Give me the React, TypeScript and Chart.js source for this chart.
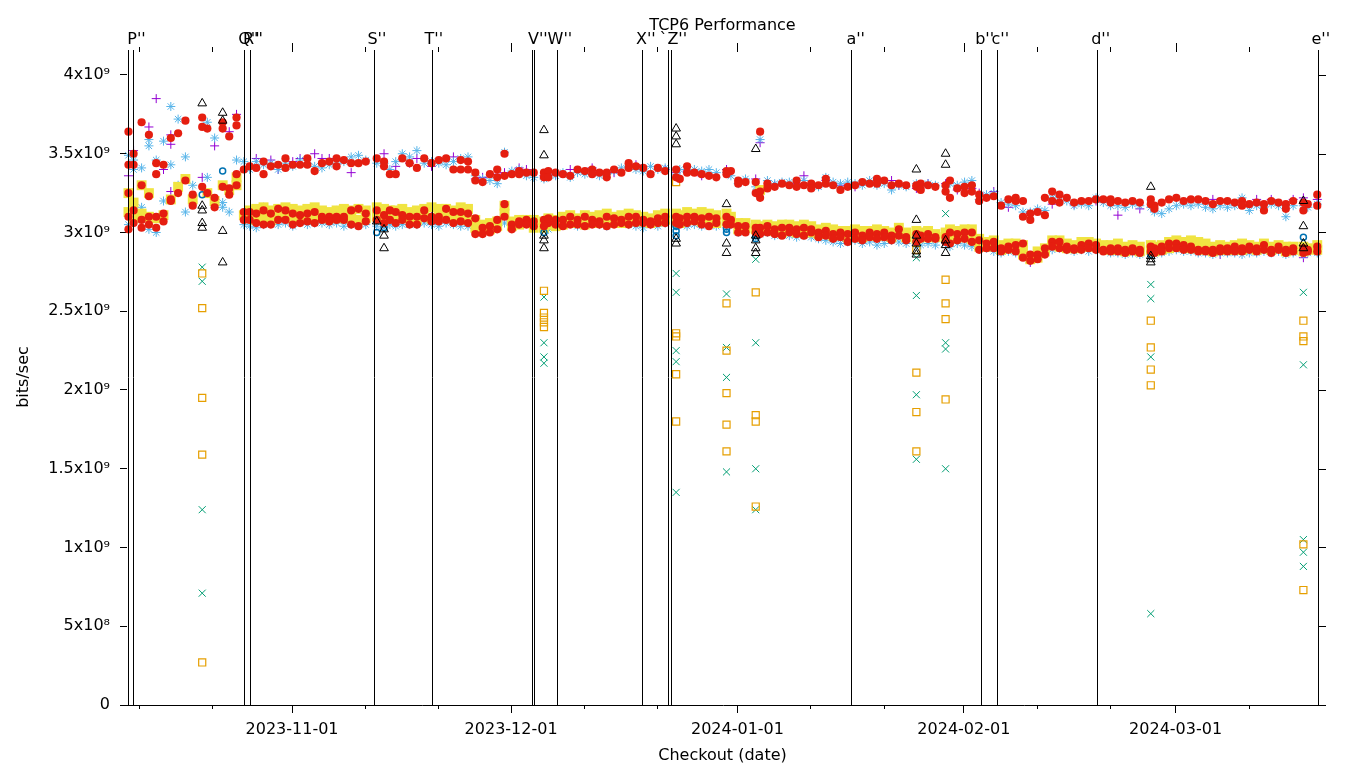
import { useEffect, useRef } from "react";
import { Chart, registerables } from "chart.js";

Chart.register(...registerables);

const X_MIN = -22.6;
const X_MAX = 140.5;
const Y_MAX = 4.146e9;
const G = 1e9;

const chartTitle = "TCP6 Performance";
const xTitle = "Checkout (date)";
const yTitle = "bits/sec";

const monthTickDays = [0, 30, 61, 92, 121];
const monthTickLabels = ["2023-11-01", "2023-12-01", "2024-01-01", "2024-02-01", "2024-03-01"];
const minorTickDays = [-21, -11, 10, 20, 40, 50, 71, 81, 102, 112, 131];
const yTickValues = [0, 0.5e9, 1e9, 1.5e9, 2e9, 2.5e9, 3e9, 3.5e9, 4e9];
const yTickLabels = ["0", "5x10⁸", "1x10⁹", "1.5x10⁹", "2x10⁹", "2.5x10⁹", "3x10⁹", "3.5x10⁹", "4x10⁹"];

const markerLineDays = [-22.42, -21.74, -6.54, -5.76, 11.25, 19.11, 32.8, 33.11, 36.22, 47.99, 51.5, 51.96, 76.61, 94.4, 96.54, 110.28, 140.48];
const markerLabelTexts = ["P''", "Q''", "R''", "S''", "T''", "V''", "W''", "X''", "`Z''", "a''", "b''", "c''", "d''", "e''"];
const markerLabelDays = [-21.3, -5.9, -5.35, 11.62, 19.41, 33.66, 36.68, 48.45, 52.21, 77.19, 94.85, 97.0, 110.74, 140.89];

// checkout dates, days after 2023-11-01
const checkoutDays = [
  -22.4, -21.7, -20.6, -19.6, -18.6, -17.6, -16.6, -15.6, -14.6, -13.6, -12.3, -11.6, -10.6, -9.5, -8.6, -7.6, -6.6,
  -5.8, -4.9, -3.9, -2.9, -1.9, -0.9, 0.1, 1.1, 2.1, 3.1, 4.1, 5.1, 6.1, 7.1, 8.1, 9.1, 10.1,
  11.6, 12.6, 13.4, 14.2,
  15.1, 16.1, 17.1, 18.1, 19.1, 20.1, 21.1, 22.1, 23.1, 24.1, 25.1, 26.1, 27.1, 28.1, 29.1, 30.1, 31.1, 32.1, 33.1,
  34.5,
  35.1, 36.1, 37.1, 38.1, 39.1, 40.1, 41.1, 42.1, 43.1, 44.1, 45.1, 46.1, 47.1, 48.1, 49.1, 50.1, 51.1,
  52.6,
  53.1, 54.1, 55.1, 56.1, 57.1, 58.1,
  59.5,
  60.1, 61.1, 62.1,
  63.5,
  64.1, 65.1, 66.1, 67.1, 68.1, 69.1, 70.1, 71.1, 72.1, 73.1, 74.1, 75.1, 76.1, 77.1, 78.1, 79.1, 80.1, 81.1, 82.1, 83.1, 84.1,
  85.5,
  86.1, 87.1, 88.1,
  89.5,
  90.1, 91.1, 92.1, 93.1, 94.1, 95.1, 96.1, 97.1, 98.1, 99.1, 100.1, 101.1, 102.1, 103.1, 104.1, 105.1, 106.1, 107.1, 108.1, 109.1, 110.1, 111.1, 112.1, 113.1, 114.1, 115.1, 116.1,
  117.6,
  118.1, 119.1, 120.1, 121.1, 122.1, 123.1, 124.1, 125.1, 126.1, 127.1, 128.1, 129.1, 130.1, 131.1, 132.1, 133.1, 134.1, 135.1, 136.1, 137.1,
  138.5, 139.1, 140.4,
];

const redHiA = [
  3.64, 3.5, 3.7, 3.62, 3.44, 3.43, 3.6, 3.63, 3.71, null,
  3.73, 3.66, null, 3.7, 3.61, 3.73, 3.4, 3.42, 3.41, 3.45,
  3.42, 3.43, 3.47, 3.43, 3.43, 3.47, 3.39, 3.44, 3.45, 3.47,
  3.46, 3.44, 3.44, 3.45, 3.47, 3.45, 3.37, 3.37, 3.47, 3.44,
  3.41, 3.47, 3.44, 3.46, 3.47, 3.4, 3.46, 3.45, 3.38, 3.32,
  3.37, 3.4, 3.5, 3.37, 3.39, 3.38, 3.38, 3.38, 3.39, 3.38,
  3.37, 3.36, 3.4, 3.39, 3.4, 3.38, 3.35, 3.4, 3.38, 3.44,
  3.42, 3.41, 3.37, 3.41, 3.39, 3.35, 3.34, 3.42, 3.38, 3.37,
  3.36, 3.35, 3.39, 3.39, 3.33, 3.32, 3.32, 3.64, 3.31, 3.29,
  3.31, 3.3, 3.33, 3.3, 3.31, 3.3, 3.34, 3.3, 3.27, 3.29,
  3.3, 3.32, 3.31, 3.34, 3.33, 3.3, 3.31, 3.3, 3.29, 3.31,
  3.3, 3.29, 3.26, 3.33, 3.28, 3.29, 3.3, 3.24, 3.22, 3.23,
  3.17, 3.21, 3.22, 3.2, 3.08, 3.13, 3.11, 3.26, 3.24, 3.22,
  3.19, 3.2, 3.2, 3.21, 3.21, 3.21, 3.2, 3.19, 3.2, 3.19,
  3.21, 3.17, 3.19, 3.21, 3.22, 3.2, 3.21, 3.21, 3.2, 3.18,
  3.2, 3.2, 3.19, 3.2, 3.18, 3.19, 3.14, 3.2, 3.19, 3.18,
  3.2, 3.19, 3.18, 3.24,
];
const redHiB = [
  3.43, 3.43, 3.3, 3.23, 3.37, null, 3.21, null, 3.33, null,
  3.67, null, null, 3.66, null, 3.68, null, null, null, 3.37,
  null, null, 3.41, null, null, 3.43, null, null, null, 3.42,
  null, null, null, null, null, 3.42, null, null, null, null,
  null, null, null, null, null, null, 3.4, 3.4, 3.33, null,
  null, 3.35, 3.36, null, 3.37, null, null, 3.35, 3.35, null,
  null, null, null, null, 3.37, null, 3.38, null, null, 3.41,
  null, null, null, null, null, 3.4, null, 3.38, null, null,
  null, null, 3.37, null, 3.31, null, 3.25, 3.26, 3.28, null,
  null, null, 3.29, null, 3.28, null, 3.31, null, null, null,
  null, null, null, 3.31, null, null, null, null, 3.3, 3.27,
  null, null, 3.3, 3.22, null, 3.25, 3.26, 3.2, null, null,
  null, null, 3.2, 3.1, 3.12, null, 3.22, 3.2, 3.19, null,
  null, null, null, null, null, 3.19, null, null, null, null,
  3.18, 3.15, null, null, null, null, null, null, null, null,
  null, null, null, 3.17, null, null, 3.18, null, null, 3.15,
  null, 3.14, null, 3.17,
];
const redLoA = [
  3.1, 3.14, 3.08, 3.1, 3.1, 3.12, 3.2, 3.25, null, 3.24,
  3.29, 3.25, 3.22, 3.29, 3.28, 3.3, 3.13, 3.13, 3.12, 3.14,
  3.12, 3.15, 3.14, 3.12, 3.11, 3.12, 3.13, 3.1, 3.1, 3.1,
  3.1, 3.14, 3.15, 3.12, 3.14, 3.11, 3.14, 3.13, 3.11, 3.1,
  3.1, 3.14, 3.1, 3.1, 3.15, 3.13, 3.13, 3.12, 3.09, 3.03,
  3.04, 3.08, 3.18, 3.05, 3.05, 3.08, 3.07, 3.08, 3.06, 3.08,
  3.08, 3.1, 3.08, 3.1, 3.08, 3.07, 3.1, 3.09, 3.08, 3.1,
  3.1, 3.08, 3.07, 3.09, 3.1, 3.1, 3.09, 3.1, 3.1, 3.09,
  3.1, 3.09, 3.1, 3.08, 3.04, 3.04, 3.03, 3.03, 3.04, 3.02,
  3.03, 3.03, 3.02, 3.03, 3.02, 3.0, 3.01, 2.99, 3.0, 2.99,
  3.0, 2.98, 3.0, 2.99, 3.0, 2.98, 3.02, 2.97, 2.99, 2.98,
  2.99, 2.97, 2.97, 3.0, 2.99, 3.0, 3.0, 2.95, 2.93, 2.94,
  2.9, 2.91, 2.92, 2.93, 2.82, 2.86, 2.86, 2.94, 2.94, 2.91,
  2.9, 2.92, 2.93, 2.92, 2.89, 2.9, 2.9, 2.89, 2.9, 2.89,
  2.88, 2.9, 2.91, 2.93, 2.93, 2.92, 2.91, 2.89, 2.89, 2.89,
  2.9, 2.9, 2.91, 2.9, 2.91, 2.9, 2.92, 2.87, 2.91, 2.89,
  2.9, 2.9, 2.89, 2.91,
];
const redLoB = [
  3.02, 3.06, 3.03, 3.05, 3.03, 3.07, null, null, null, 3.17,
  null, null, 3.16, null, 3.24, null, 3.08, 3.08, 3.06, 3.05,
  3.05, 3.08, 3.08, 3.05, 3.06, 3.07, 3.06, 3.08, 3.07, 3.08,
  3.08, 3.05, 3.04, 3.07, 3.08, 3.06, 3.08, 3.06, 3.08, 3.05,
  3.05, 3.09, 3.07, 3.07, 3.08, 3.06, 3.07, 3.06, 2.99, 2.99,
  3.0, 3.02, 3.1, 3.02, 3.07, 3.05, 3.04, 3.04, 3.09, 3.05,
  3.04, 3.05, 3.05, 3.04, 3.05, 3.05, 3.04, 3.05, 3.06, 3.05,
  3.06, 3.06, 3.05, 3.06, 3.06, 3.06, 3.05, 3.06, 3.07, 3.05,
  3.04, 3.06, 3.05, 3.05, 3.0, 3.0, 3.0, 2.99, 3.0, 2.99,
  2.98, 3.0, 2.99, 2.98, 3.0, 2.97, 2.98, 2.96, 2.97, 2.94,
  2.96, 2.95, 2.97, 2.96, 2.97, 2.95, 2.98, 2.95, 2.94, 2.96,
  2.96, 2.96, 2.94, 2.93, 2.95, 2.96, 2.94, 2.89, 2.9, 2.9,
  2.88, 2.89, 2.88, 2.84, 2.86, 2.83, 2.9, 2.91, 2.9, 2.89,
  2.89, 2.89, 2.9, 2.89, 2.88, 2.88, 2.88, 2.87, 2.88, 2.87,
  2.91, 2.87, 2.88, 2.9, 2.9, 2.89, 2.89, 2.88, 2.88, 2.87,
  2.88, 2.88, 2.88, 2.88, 2.89, 2.88, 2.89, 2.89, 2.89, 2.87,
  2.88, 2.87, 2.88, 2.88,
];
const redExtraIdx = [0, 15, 87];
const redExtraValues = [3.25, 3.37, 3.22];

const yellowA = [
  3.13, 3.19, 3.3, 3.25, 3.09, 3.11, 3.21, 3.29, 3.34, 3.21,
  null, 3.25, 3.2, 3.3, 3.27, 3.35, 3.11, 3.14, 3.15, 3.16,
  3.14, 3.15, 3.16, 3.15, 3.14, 3.15, 3.16, 3.14, 3.13, 3.14,
  3.15, 3.14, 3.15, 3.14, 3.16, 3.15, 3.14, 3.14, 3.15, 3.13,
  3.14, 3.15, 3.16, 3.15, 3.15, 3.14, 3.16, 3.15, 3.08, 3.05,
  3.06, 3.07, 3.17, 3.07, 3.08, 3.08, 3.08, 3.07, 3.09, 3.08,
  3.1, 3.11, 3.09, 3.11, 3.1, 3.11, 3.12, 3.1, 3.11, 3.12,
  3.11, 3.1, 3.09, 3.11, 3.12, 3.12, 3.11, 3.13, 3.12, 3.13,
  3.12, 3.11, 3.12, 3.1, 3.06, 3.06, 3.05, 3.04, 3.05, 3.04,
  3.05, 3.05, 3.04, 3.05, 3.04, 3.02, 3.03, 3.02, 3.01, 3.01,
  3.02, 3.01, 3.01, 3.02, 3.01, 3.0, 3.03, 3.0, 3.01, 3.0,
  3.01, 2.99, 3.0, 3.02, 3.01, 3.02, 3.02, 2.96, 2.94, 2.95,
  2.92, 2.93, 2.93, 2.92, 2.85, 2.88, 2.88, 2.95, 2.95, 2.93,
  2.92, 2.94, 2.94, 2.93, 2.92, 2.92, 2.93, 2.91, 2.92, 2.91,
  2.92, 2.91, 2.92, 2.94, 2.95, 2.94, 2.95, 2.94, 2.93, 2.91,
  2.92, 2.91, 2.92, 2.93, 2.92, 2.91, 2.93, 2.91, 2.92, 2.91,
  2.91, 2.91, 2.9, 2.92,
];
const yellowB = [
  3.25, 3.09, 3.12, 3.1, null, null, null, null, null, null,
  null, null, null, null, null, 3.3, null, 3.09, 3.08, 3.1,
  3.08, 3.1, 3.11, 3.09, 3.1, 3.09, 3.1, 3.11, 3.09, 3.1,
  3.09, 3.1, 3.08, 3.09, 3.1, 3.09, 3.1, 3.09, 3.1, 3.09,
  3.08, 3.11, 3.09, 3.1, 3.1, 3.09, 3.1, 3.08, 3.03, 3.02,
  3.02, 3.04, 3.12, 3.04, 3.05, 3.06, 3.03, 3.03, 3.05, 3.04,
  3.05, 3.06, 3.07, 3.05, 3.06, 3.07, 3.06, 3.07, 3.06, 3.07,
  3.08, 3.07, 3.06, 3.07, 3.08, 3.07, 3.06, 3.08, 3.08, 3.07,
  3.07, 3.06, 3.07, 3.06, 3.02, 3.03, 3.02, 3.27, 3.02, 3.01,
  3.0, 3.01, 3.0, 3.01, 3.0, 2.99, 2.99, 2.98, 2.99, 2.97,
  2.98, 2.97, 2.98, 2.98, 2.98, 2.97, 2.99, 2.97, 2.96, 2.97,
  2.97, 2.97, 2.97, 2.96, 2.97, 2.97, 2.96, 2.91, 2.91, 2.92,
  2.89, 2.9, 2.9, 2.86, 2.83, 2.84, 2.9, 2.92, 2.91, 2.9,
  2.9, 2.91, 2.91, 2.91, 2.9, 2.89, 2.89, 2.88, 2.89, 2.88,
  2.89, 2.88, 2.89, 2.9, 2.91, 2.91, 2.9, 2.9, 2.89, 2.88,
  2.89, 2.89, 2.89, 2.89, 2.9, 2.89, 2.9, 2.89, 2.9, 2.88,
  2.89, 2.88, 2.89, 2.89,
];

const blueHi = [
  3.49, 3.46, 3.41, 3.59, 3.46, 3.58, 3.8, 3.72, 3.48, 3.3,
  null, 3.7, 3.6, null, null, 3.46, 3.45, 3.4, 3.45, 3.43,
  3.44, 3.4, 3.44, 3.42, 3.46, 3.44, 3.42, 3.41, 3.43, 3.44,
  3.45, 3.48, 3.49, 3.46, 3.44, 3.44, 3.4, 3.45, 3.5, 3.48,
  3.52, 3.44, 3.45, 3.44, 3.43, 3.45, 3.47, 3.48, 3.36, 3.34,
  3.33, 3.31, 3.51, 3.39, 3.4, 3.36, 3.35, 3.34, 3.37, 3.36,
  3.38, 3.35, 3.38, 3.37, 3.39, 3.36, 3.37, 3.39, 3.41, 3.42,
  3.4, 3.39, 3.42, 3.4, 3.41, 3.37, 3.4, 3.4, 3.4, 3.39,
  3.4, 3.38, 3.38, 3.36, 3.31, 3.34, 3.29, 3.59, 3.33, 3.31,
  3.32, 3.32, 3.3, 3.33, 3.3, 3.29, 3.35, 3.32, 3.31, 3.32,
  3.31, 3.3, 3.33, 3.3, 3.31, 3.27, 3.3, 3.29, 3.31, 3.29,
  3.31, 3.3, 3.29, 3.31, 3.3, 3.32, 3.33, 3.21, 3.24, 3.25,
  3.19, 3.18, 3.17, 3.13, 3.13, 3.15, 3.14, 3.22, 3.23, 3.2,
  3.17, 3.18, 3.17, 3.22, 3.19, 3.17, 3.17, 3.16, 3.18, 3.17,
  3.16, 3.13, 3.12, 3.15, 3.17, 3.18, 3.17, 3.18, 3.16, 3.15,
  3.17, 3.16, 3.17, 3.22, 3.14, 3.17, 3.16, 3.18, 3.17, 3.1,
  3.17, 3.17, 3.16, 3.18,
];
const blueLo = [
  3.05, 3.15, 3.16, 3.02, 3.0, 3.2, 3.43, 3.3, 3.13, null,
  null, 3.35, null, 3.19, 3.13, null, 3.05, 3.04, 3.03, 3.05,
  3.06, 3.05, 3.06, 3.04, 3.07, 3.05, 3.06, 3.06, 3.05, 3.06,
  3.04, 3.05, 3.05, 3.05, 3.04, 3.03, 3.05, 3.04, 3.05, 3.05,
  3.05, 3.06, 3.05, 3.04, 3.06, 3.05, 3.04, 3.04, 3.03, 3.04,
  3.03, 3.04, 3.06, 3.05, 3.07, 3.07, 3.05, 3.04, 3.02, 3.06,
  3.05, 3.07, 3.04, 3.05, 3.07, 3.05, 3.04, 3.06, 3.07, 3.05,
  3.04, 3.03, 3.05, 3.04, 3.06, 3.04, 3.06, 3.04, 3.05, 3.04,
  3.05, 3.04, 3.03, 3.05, 3.0, 3.01, 2.97, 2.99, 3.0, 2.98,
  2.99, 2.98, 2.97, 2.98, 2.97, 2.96, 2.95, 2.94, 2.93, 2.94,
  2.95, 2.93, 2.94, 2.92, 2.93, 2.95, 2.94, 2.93, 2.92, 2.92,
  2.93, 2.92, 2.93, 2.91, 2.93, 2.92, 2.91, 2.91, 2.9, 2.88,
  2.87, 2.88, 2.87, 2.85, 2.84, 2.85, 2.87, 2.89, 2.9, 2.89,
  2.88, 2.89, 2.88, 2.89, 2.89, 2.87, 2.87, 2.86, 2.87, 2.86,
  2.87, 2.86, 2.87, 2.88, 2.89, 2.88, 2.88, 2.87, 2.87, 2.86,
  2.87, 2.87, 2.87, 2.86, 2.87, 2.87, 2.88, 2.87, 2.88, 2.86,
  2.87, 2.86, 2.87, 2.87,
];
const blueExtraIdx = [1, 3, 13];
const blueExtraValues = [3.4, 3.55, 3.16];

const purpleIdx = [
  0, 1, 3, 4, 5, 6, 6, 6, 10, 12, 14, 15, 18, 19, 20, 21, 23, 24, 26, 27, 28, 29, 31, 35, 37, 39, 40, 42, 42, 45,
  48, 49, 51, 52, 54, 55, 57, 59, 61, 64, 67, 70, 74, 74, 75, 77, 79, 81, 82, 86, 87, 89, 92, 93, 96, 98, 100, 102,
  103, 105, 106, 108, 110, 112, 114, 116, 117, 119, 121, 124, 124, 127, 130, 133, 136, 137, 139, 149, 150, 155, 157,
  160, 161, 161, 163,
];
const purpleValues = [
  3.36, 3.52, 3.67, 3.85, 3.4, 3.62, 3.56, 3.26, 3.35, 3.55, 3.64, 3.75, 3.47, 3.16, 3.46, 3.4, 3.45, 3.47, 3.5, 3.47,
  3.47, 3.14, 3.38, 3.5, 3.42, 3.44, 3.47, 3.42, 3.15, 3.48,
  3.34, 3.35, 3.37, 3.38, 3.41, 3.4, 3.36, 3.37, 3.4, 3.41, 3.38, 3.43, 3.4, 3.09, 3.38, 3.39, 3.36, 3.07, 3.4, 3.34,
  3.57, 3.3, 3.31, 3.36, 3.33, 3.3, 3.29, 2.96,
  3.32, 3.33, 3.3, 3.28, 3.31, 3.31, 3.27, 3.28, 3.25, 3.26, 3.16, 3.12, 2.81, 3.18, 3.18, 3.2, 3.11, 2.9, 3.15, 3.21,
  2.86, 3.21, 3.21,
  3.21, 3.22, 2.84, 3.21,
];

// outlier columns
const triangleDays = [
  -12.3, -12.3, -12.3, -12.3, -12.3, -9.5, -9.5, -9.5, -9.5, 11.6, 12.6, 12.6, 12.6,
  34.5, 34.5, 34.5, 34.5, 34.5, 52.6, 52.6, 52.6, 52.6, 52.6, 59.5, 59.5, 59.5,
  63.5, 63.5, 63.5, 63.5, 63.5, 85.5, 85.5, 85.5, 85.5, 85.5, 85.5, 89.5, 89.5, 89.5, 89.5, 89.5,
  117.6, 117.6, 117.6, 117.6, 138.5, 138.5, 138.5, 138.5,
];
const triangleValues = [
  3.82, 3.17, 3.14, 3.06, 3.03, 3.76, 3.71, 3.01, 2.81, 3.07, 3.02, 2.98, 2.9,
  3.65, 3.49, 2.98, 2.95, 2.9, 3.66, 3.61, 3.56, 2.96, 2.93, 3.18, 2.93, 2.87,
  3.53, 2.98, 2.95, 2.9, 2.87, 3.4, 3.08, 2.98, 2.93, 2.88, 2.86, 3.5, 3.43, 2.95, 2.92, 2.87,
  3.29, 2.85, 2.83, 2.81, 3.2, 3.04, 2.93, 2.9,
];
const circleDays = [-12.3, -9.5, 11.6, 12.6, 34.5, 52.6, 52.6, 52.6, 59.5, 59.5, 59.5, 63.5, 63.5, 85.5, 85.5, 89.5, 117.6, 138.5];
const circleValues = [3.24, 3.39, 3.0, 3.03, 3.0, 3.04, 3.01, 2.98, 3.05, 3.02, 3.0, 2.98, 2.96, 2.97, 2.94, 2.96, 2.86, 2.97];
const crossXDays = [
  -12.3, -12.3, -12.3, -12.3, 34.5, 34.5, 34.5, 34.5, 52.6, 52.6, 52.6, 52.6, 52.6,
  59.5, 59.5, 59.5, 59.5, 63.5, 63.5, 63.5, 63.5, 85.5, 85.5, 85.5, 85.5,
  89.5, 89.5, 89.5, 89.5, 117.6, 117.6, 117.6, 117.6, 138.5, 138.5, 138.5, 138.5, 138.5,
];
const crossXValues = [
  2.78, 2.69, 1.24, 0.71, 2.59, 2.3, 2.21, 2.17, 2.74, 2.62, 2.25, 2.18, 1.35,
  2.61, 2.27, 2.08, 1.48, 2.83, 2.3, 1.5, 1.24, 2.84, 2.6, 1.97, 1.56,
  3.12, 2.3, 2.26, 1.5, 2.67, 2.58, 2.21, 0.58, 2.62, 2.16, 1.05, 0.97, 0.88,
];
const squareDays = [
  -12.3, -12.3, -12.3, -12.3, -12.3, 34.5, 34.5, 34.5, 34.5, 34.5, 52.6, 52.6, 52.6, 52.6, 52.6,
  59.5, 59.5, 59.5, 59.5, 59.5, 63.5, 63.5, 63.5, 63.5, 85.5, 85.5, 85.5, 85.5,
  89.5, 89.5, 89.5, 89.5, 117.6, 117.6, 117.6, 117.6, 138.5, 138.5, 138.5, 138.5, 138.5,
];
const squareValues = [
  2.74, 2.52, 1.95, 1.59, 0.27, 2.63, 2.49, 2.46, 2.43, 2.4, 3.32, 2.36, 2.34, 2.1, 1.8,
  2.55, 2.25, 1.98, 1.78, 1.61, 2.62, 1.84, 1.8, 1.26, 2.89, 2.11, 1.86, 1.61,
  2.7, 2.55, 2.45, 1.94, 2.44, 2.27, 2.13, 2.03, 2.44, 2.34, 2.31, 1.02, 0.73,
];

function series(vals: (number | null)[]) {
  const out: { x: number; y: number }[] = [];
  vals.forEach((v, i) => {
    if (v !== null) out.push({ x: checkoutDays[i], y: v * G });
  });
  return out;
}
function byIndex(idx: number[], vals: number[]) {
  return idx.map((k, i) => ({ x: checkoutDays[k], y: vals[i] * G }));
}
function byDay(days: number[], vals: number[]) {
  return days.map((d, i) => ({ x: d, y: vals[i] * G }));
}

const framePlugin = {
  id: "gnuplotFrame",
  afterDatasetsDraw(chart: any) {
    const { ctx, chartArea: a, scales } = chart;
    const x = scales.x;
    const y = scales.y;
    ctx.save();
    ctx.strokeStyle = "#000";
    ctx.lineWidth = 1;
    const seg = (x1: number, y1: number, x2: number, y2: number) => {
      ctx.beginPath();
      ctx.moveTo(x1, y1);
      ctx.lineTo(x2, y2);
      ctx.stroke();
    };
    const cx = (d: number) => Math.round(x.getPixelForValue(d)) + 0.5;
    markerLineDays.forEach((d) => seg(cx(d), a.top - 2, cx(d), a.bottom));
    monthTickDays.forEach((d) => seg(cx(d), a.top, cx(d), a.top - 9));
    minorTickDays.forEach((d) => {
      seg(cx(d), a.top, cx(d), a.top - 5);
      seg(cx(d), a.bottom, cx(d), a.bottom + 4);
    });
    yTickValues.forEach((v) => {
      const py = Math.round(y.getPixelForValue(v)) + 0.5;
      seg(a.right, py, a.right + 8, py);
    });
    seg(a.left - 6, a.bottom + 0.5, a.right + 8, a.bottom + 0.5);

    ctx.fillStyle = "#000";
    ctx.font = '16px "DejaVu Sans"';
    ctx.textAlign = "center";
    ctx.textBaseline = "alphabetic";
    markerLabelTexts.forEach((t, i) => ctx.fillText(t, x.getPixelForValue(markerLabelDays[i]), a.top - 8));
    const mid = (a.left + a.right) / 2;
    ctx.fillText(chartTitle, mid, 30);
    ctx.fillText(xTitle, mid, 760);
    ctx.translate(24, 377);
    ctx.rotate(-Math.PI / 2);
    ctx.textBaseline = "middle";
    ctx.fillText(yTitle, 0, 0);
    ctx.restore();
  },
};

export default function App() {
  const ref = useRef<HTMLCanvasElement>(null);
  useEffect(() => {
    document.body.style.margin = "0";
    Chart.defaults.font.family = '"DejaVu Sans", sans-serif';
    Chart.defaults.font.size = 16;
    Chart.defaults.color = "#000";
    const common = { showLine: false, clip: false as any };
    const chart = new Chart(ref.current as HTMLCanvasElement, {
      type: "scatter",
      data: {
        datasets: [
          { ...common, label: "black", data: byDay(triangleDays, triangleValues), pointStyle: "triangle", pointRadius: 5, borderColor: "#000", backgroundColor: "rgba(0,0,0,0)", borderWidth: 1, order: 1 },
          { ...common, label: "red hi", data: series(redHiA).concat(series(redHiB), byIndex(redExtraIdx, redExtraValues)), pointStyle: "circle", pointRadius: 4.1, borderWidth: 0, backgroundColor: "#e51e10", borderColor: "#e51e10", order: 2 },
          { ...common, label: "red lo", data: series(redLoA).concat(series(redLoB)), pointStyle: "circle", pointRadius: 4.1, borderWidth: 0, backgroundColor: "#e51e10", borderColor: "#e51e10", order: 2 },
          { ...common, label: "dark blue", data: byDay(circleDays, circleValues), pointStyle: "circle", pointRadius: 3, borderWidth: 1.5, borderColor: "#0072b2", backgroundColor: "rgba(0,0,0,0)", order: 3 },
          { ...common, label: "yellow", data: series(yellowA).concat(series(yellowB)), pointStyle: "rect", pointRadius: 7, borderWidth: 0, backgroundColor: "#f0e442", borderColor: "#f0e442", order: 4 },
          { ...common, label: "orange", data: byDay(squareDays, squareValues), pointStyle: "rect", pointRadius: 5, borderWidth: 1.2, borderColor: "#e69f00", backgroundColor: "rgba(0,0,0,0)", order: 5 },
          { ...common, label: "blue", data: series(blueHi).concat(series(blueLo), byIndex(blueExtraIdx, blueExtraValues)), pointStyle: "star", pointRadius: 4.5, borderWidth: 1, borderColor: "#56b4e9", backgroundColor: "#56b4e9", order: 6 },
          { ...common, label: "green", data: byDay(crossXDays, crossXValues), pointStyle: "crossRot", pointRadius: 5, borderWidth: 1, borderColor: "#009e73", backgroundColor: "#009e73", order: 7 },
          { ...common, label: "purple", data: byIndex(purpleIdx, purpleValues), pointStyle: "cross", pointRadius: 4.5, borderWidth: 1, borderColor: "#9400d3", backgroundColor: "#9400d3", order: 8 },
        ],
      },
      options: {
        responsive: false,
        animation: false,
        devicePixelRatio: 1,
        layout: { padding: { top: 52, right: 42, left: 0, bottom: 0 } },
        plugins: { legend: { display: false }, tooltip: { enabled: false }, title: { display: false } },
        events: [],
        scales: {
          x: {
            type: "linear",
            min: X_MIN,
            max: X_MAX,
            afterBuildTicks: (s: any) => {
              s.ticks = monthTickDays.map((v) => ({ value: v }));
            },
            afterFit: (s: any) => {
              s.height = 63;
            },
            ticks: {
              autoSkip: false,
              maxRotation: 0,
              minRotation: 0,
              padding: 7,
              color: "#000",
              font: { size: 16 },
              callback: (_v: any, i: number) => monthTickLabels[i],
            },
            grid: { drawOnChartArea: false, drawTicks: true, tickLength: 8, tickColor: "#000", color: "#000" },
            border: { display: false },
          },
          y: {
            type: "linear",
            min: 0,
            max: Y_MAX,
            afterBuildTicks: (s: any) => {
              s.ticks = yTickValues.map((v) => ({ value: v }));
            },
            afterFit: (s: any) => {
              s.width = 127;
            },
            ticks: {
              autoSkip: false,
              padding: 10,
              color: "#000",
              font: { size: 16 },
              callback: (_v: any, i: number) => yTickLabels[i],
            },
            grid: { drawOnChartArea: false, drawTicks: true, tickLength: 7, tickColor: "#000", color: "#000" },
            border: { display: false },
          },
        },
      },
      plugins: [framePlugin],
    } as any);
    return () => chart.destroy();
  }, []);
  return (
    <div style={{ width: 1360, height: 768, background: "#fff" }}>
      <canvas ref={ref} width={1360} height={768} style={{ display: "block" }} />
    </div>
  );
}
